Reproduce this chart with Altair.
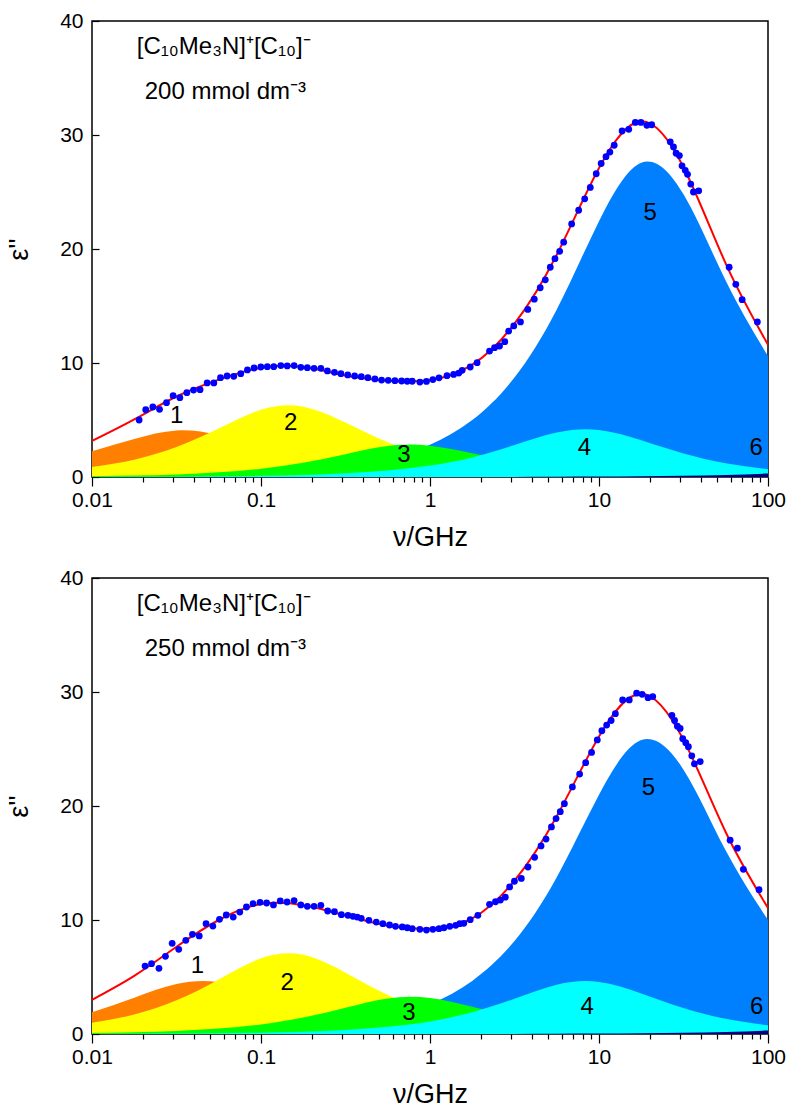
import altair as alt
import pandas as pd

# ---------------- data ----------------
freq_grid = [0.01, 0.01778, 0.03162, 0.05623, 0.1, 0.1778, 0.3162, 0.5623, 1.0,
             1.778, 3.162, 5.623, 10.0, 17.78, 31.62, 56.23, 100.0]

# panel 1 : 200 mmol dm-3
m1_200 = [2.25, 3.33, 4.08, 3.66, 2.54, 1.54, 0.89, 0.50, 0.28, 0.16, 0.09, 0.05, 0.03, 0.016, 0.009, 0.005, 0.003]
m2_200 = [0.87, 1.52, 2.63, 4.25, 5.89, 6.17, 4.77, 3.04, 1.79, 1.02, 0.58, 0.32, 0.18, 0.10, 0.06, 0.03, 0.02]
m3_200 = [0.074, 0.13, 0.23, 0.41, 0.73, 1.25, 2.00, 2.72, 2.75, 2.08, 1.31, 0.77, 0.44, 0.25, 0.14, 0.08, 0.04]
m4_200 = [0.010, 0.018, 0.032, 0.057, 0.10, 0.18, 0.32, 0.57, 1.00, 1.72, 2.80, 3.90, 4.13, 3.22, 2.06, 1.21, 0.69]
m5_200 = [0.028, 0.050, 0.089, 0.159, 0.283, 0.503, 0.895, 1.59, 2.82, 4.99, 8.72, 14.69, 22.44, 27.57, 24.80, 17.21, 10.6]
m6_200 = [0.0, 0.0, 0.0, 0.0, 0.0, 0.001, 0.001, 0.002, 0.003, 0.006, 0.011, 0.019, 0.033, 0.059, 0.104, 0.18, 0.30]
fit_200 = [3.16, 5.05, 7.06, 8.54, 9.58, 9.64, 8.9, 8.45, 8.5, 9.85, 13.45, 19.5, 27.1, 31.2, 27.17, 18.72, 11.6]

dots_f_200 = [0.0190, 0.0208, 0.0229, 0.0251, 0.0276, 0.0302, 0.0331, 0.0364, 0.0399, 0.0436,
              0.048, 0.0526, 0.0576, 0.063, 0.069, 0.0759, 0.0831, 0.091, 0.0998, 0.109,
              0.119, 0.131, 0.143, 0.157, 0.172, 0.188, 0.206, 0.226, 0.247, 0.272,
              0.297, 0.326, 0.358, 0.392, 0.429, 0.472, 0.517, 0.566, 0.620, 0.679,
              0.733, 0.785, 0.871, 0.953, 1.04, 1.13, 1.26, 1.38, 1.48, 1.55,
              1.73, 1.90, 2.25, 2.41, 2.58, 2.77, 2.92, 3.13, 3.43, 3.79,
              4.14, 4.49, 4.81, 5.15, 5.49, 5.85, 6.18, 6.89, 7.58, 8.23,
              8.88, 9.63, 10.3, 11.0, 11.6, 12.3, 13.7, 15.0, 16.4, 17.7,
              19.2, 20.5, 26.4, 27.6, 28.6, 29.9, 31.0, 32.4, 33.4, 34.9,
              36.2, 38.9, 58.9, 64.5, 70.3, 86.5]
dots_e_200 = [5.0, 5.9, 6.14, 5.94, 6.52, 7.13, 6.96, 7.4, 7.63, 7.66,
              8.25, 8.25, 8.71, 8.86, 8.83, 9.06, 9.39, 9.56, 9.65, 9.68,
              9.68, 9.77, 9.74, 9.77, 9.62, 9.59, 9.53, 9.53, 9.3, 9.18,
              9.06, 8.95, 8.86, 8.8, 8.71, 8.6, 8.5, 8.48, 8.45, 8.42,
              8.40, 8.40, 8.33, 8.38, 8.55, 8.7, 8.89, 9.0, 9.12, 9.36,
              9.65, 10.03, 11.05, 11.34, 11.49, 11.87, 12.8, 13.25, 13.6, 14.7,
              15.6, 16.6, 17.3, 18.4, 19.15, 19.8, 20.6, 22.2, 23.4, 24.4,
              25.4, 26.6, 27.5, 28.1, 28.5, 29.1, 30.35, 30.5, 31.1, 31.1,
              30.85, 30.9, 29.4, 28.95, 28.4, 28.2, 27.3, 26.9, 26.55, 25.7,
              25.0, 25.1, 18.4, 16.9, 15.55, 13.6]

# panel 2 : 250 mmol dm-3
m1_250 = [1.9, 3.18, 4.38, 4.54, 3.48, 2.21, 1.30, 0.74, 0.42, 0.24, 0.13, 0.07, 0.04, 0.02, 0.01, 0.01, 0.0]
m2_250 = [0.98, 1.72, 2.96, 4.79, 6.64, 6.95, 5.38, 3.43, 2.01, 1.15, 0.65, 0.37, 0.21, 0.12, 0.07, 0.04, 0.02]
m3_250 = [0.085, 0.15, 0.27, 0.48, 0.84, 1.44, 2.30, 3.12, 3.16, 2.38, 1.50, 0.88, 0.50, 0.28, 0.16, 0.09, 0.05]
m4_250 = [0.011, 0.020, 0.035, 0.063, 0.11, 0.20, 0.35, 0.63, 1.10, 1.91, 3.09, 4.32, 4.57, 3.56, 2.28, 1.34, 0.77]
m5_250 = [0.026, 0.047, 0.084, 0.149, 0.264, 0.470, 0.837, 1.49, 2.64, 4.66, 8.15, 13.74, 20.98, 25.78, 23.19, 16.09, 10.0]
m6_250 = [0.0, 0.0, 0.0, 0.0, 0.0, 0.001, 0.001, 0.002, 0.003, 0.006, 0.011, 0.019, 0.033, 0.059, 0.104, 0.18, 0.30]
fit_250 = [3.0, 5.1, 7.65, 10.0, 11.4, 11.3, 10.4, 9.5, 9.25, 10.15, 13.45, 19.1, 26.1, 29.85, 25.8, 17.7, 11.05]

dots_f_250 = [0.0206, 0.0225, 0.0249, 0.0272, 0.0298, 0.0326, 0.0359, 0.0393, 0.0431, 0.0473,
              0.0519, 0.0568, 0.0623, 0.0685, 0.0749, 0.082, 0.0898, 0.0987, 0.108, 0.1185,
              0.130, 0.1426, 0.157, 0.172, 0.188, 0.206, 0.226, 0.248, 0.272, 0.299,
              0.327, 0.350, 0.371, 0.392, 0.435, 0.481, 0.526, 0.576, 0.625, 0.685,
              0.733, 0.785, 0.871, 0.953, 1.04, 1.13, 1.21, 1.31, 1.42, 1.50,
              1.585, 1.73, 1.92, 2.25, 2.44, 2.61, 2.79, 2.96, 3.16, 3.47,
              3.80, 4.16, 4.54, 4.86, 5.23, 5.57, 5.9, 6.24, 6.96, 7.68,
              8.34, 9.04, 9.77, 10.4, 11.1, 11.8, 12.5, 13.8, 15.1, 16.7,
              18.0, 19.5, 20.8, 27.0, 28.0, 29.1, 30.2, 31.3, 32.6, 33.8,
              35.4, 36.7, 39.7, 59.7, 65.9, 71.5, 88.5]
dots_e_250 = [5.96, 6.17, 5.76, 6.81, 7.95, 7.43, 8.22, 8.74, 8.6, 9.68,
              9.47, 10.06, 10.44, 10.26, 10.7, 11.14, 11.43, 11.55, 11.49, 11.32,
              11.67, 11.58, 11.7, 11.32, 11.2, 11.2, 11.29, 10.79, 10.73, 10.47,
              10.41, 10.32, 10.26, 10.15, 9.97, 9.82, 9.68, 9.56, 9.45, 9.39,
              9.32, 9.24, 9.18, 9.12, 9.18, 9.24, 9.32, 9.45, 9.53, 9.68,
              9.71, 10.03, 10.41, 11.38, 11.6, 11.75, 12.0, 12.9, 13.4, 13.65,
              14.65, 15.5, 16.5, 17.1, 18.16, 18.9, 19.5, 20.2, 21.67, 22.8,
              23.8, 24.7, 25.8, 26.6, 27.1, 27.5, 28.1, 29.3, 29.3, 29.9,
              29.8, 29.5, 29.6, 27.95, 27.5, 27.0, 26.8, 25.9, 25.55, 25.2,
              24.4, 23.7, 23.9, 17.0, 16.3, 14.45, 12.66]

# mode labels (text, frequency, epsilon'')
mode_names = ["1", "2", "3", "4", "5", "6"]
lab_f_200 = [0.0317, 0.150, 0.70, 8.2, 20.1, 85.0]
lab_e_200 = [5.35, 4.76, 1.93, 2.54, 23.2, 2.54]
lab_f_250 = [0.042, 0.143, 0.75, 8.5, 19.6, 85.7]
lab_e_250 = [5.96, 4.5, 1.87, 2.37, 21.6, 2.37]

title_line1 = "[C₁₀Me₃N]⁺[C₁₀]⁻"
title_line2_200 = "200 mmol dm⁻³"
title_line2_250 = "250 mmol dm⁻³"

all_ticks = [0.01, 0.02, 0.03, 0.04, 0.05, 0.06, 0.07, 0.08, 0.09,
             0.1, 0.2, 0.3, 0.4, 0.5, 0.6, 0.7, 0.8, 0.9,
             1, 2, 3, 4, 5, 6, 7, 8, 9,
             10, 20, 30, 40, 50, 60, 70, 80, 90, 100]

FONT = "Liberation Sans"
is_major = "abs(log(datum.value)/LN10 - round(log(datum.value)/LN10)) < 0.000001"

xscale = alt.Scale(type="log", domain=[0.01, 100], nice=False)
yscale = alt.Scale(domain=[0, 40], nice=False, zero=True)


def make_panel(modes, fit, dots_f, dots_e, lab_f, lab_e, line2):
    x_axis = alt.Axis(values=all_ticks, labelExpr=is_major + " ? '' + datum.value : ''",
                      tickSize={"condition": {"test": is_major, "value": 9}, "value": 5},
                      title="ν/GHz", domain=False, labelFlush=False, labelOverlap=False,
                      labelPadding=3, titlePadding=14, grid=False)
    y_axis = alt.Axis(values=[0, 10, 20, 30, 40], tickSize=7, offset=-7, domain=False,
                      labelPadding=9, title="ε''", titlePadding=26, grid=False)
    x_enc = alt.X("f:Q", scale=xscale, axis=x_axis)
    y_enc = alt.Y("e:Q", scale=yscale, axis=y_axis)

    colors = {1: "#FF8000", 2: "#FFFF00", 3: "#00FF00", 4: "#00FFFF", 5: "#0080FF", 6: "#000080"}
    layers = []
    for k in [1, 2, 5, 3, 4, 6]:
        df = pd.DataFrame({"f": freq_grid, "e": modes[k - 1]})
        layers.append(alt.Chart(df).mark_area(color=colors[k], interpolate="natural", clip=True)
                      .encode(x=x_enc, y=y_enc))

    fit_df = pd.DataFrame({"f": freq_grid, "e": fit})
    layers.append(alt.Chart(fit_df).mark_line(color="#FF0000", strokeWidth=2, interpolate="natural", clip=True)
                  .encode(x=x_enc, y=y_enc))

    dot_df = pd.DataFrame({"f": dots_f, "e": dots_e})
    layers.append(alt.Chart(dot_df).mark_circle(color="#0000FF", size=46, opacity=1)
                  .encode(x=x_enc, y=y_enc))

    lab_df = pd.DataFrame({"f": lab_f, "e": lab_e, "t": mode_names})
    layers.append(alt.Chart(lab_df).mark_text(font=FONT, fontSize=24, color="black",
                                               align="center", baseline="middle")
                  .encode(x=x_enc, y=y_enc, text="t:N"))

    ttl_df = pd.DataFrame({"f": [0.0184, 0.0205], "e": [37.1, 33.2], "t": [title_line1, line2]})
    layers.append(alt.Chart(ttl_df).mark_text(font=FONT, fontSize=24, color="black",
                                               align="left", baseline="alphabetic")
                  .encode(x=x_enc, y=y_enc, text="t:N"))

    return alt.layer(*layers).properties(width=676, height=456)


p1 = make_panel([m1_200, m2_200, m3_200, m4_200, m5_200, m6_200], fit_200,
                dots_f_200, dots_e_200, lab_f_200, lab_e_200, title_line2_200)
p2 = make_panel([m1_250, m2_250, m3_250, m4_250, m5_250, m6_250], fit_250,
                dots_f_250, dots_e_250, lab_f_250, lab_e_250, title_line2_250)

chart = (alt.vconcat(p1, p2, spacing=15)
         .properties(padding={"left": 4, "top": 9, "right": 0, "bottom": 2}, background="white")
         .configure_view(stroke="black", strokeWidth=1.5)
         .configure_axis(labelFont=FONT, titleFont=FONT, labelFontSize=21, titleFontSize=27,
                         labelColor="black", titleColor="black", tickColor="black",
                         tickWidth=1.2, titleFontWeight="normal"))

chart.save("out.html", embed_options={"renderer": "svg", "actions": False})
